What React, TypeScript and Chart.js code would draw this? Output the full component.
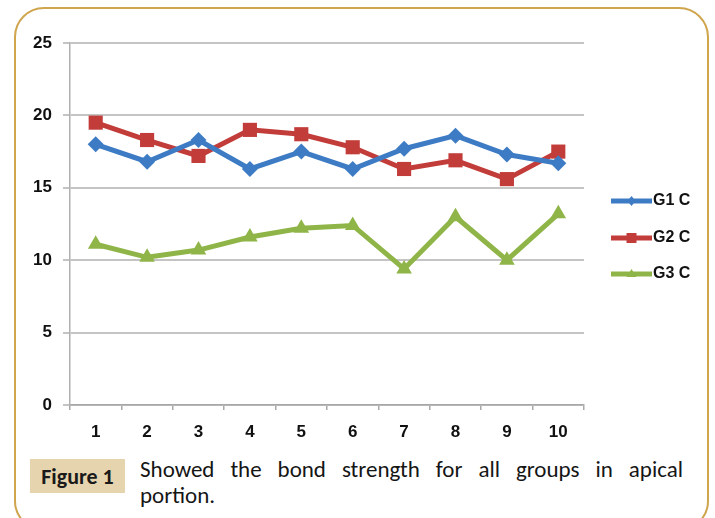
import React, { useEffect, useRef } from "react";
import { Chart, registerables } from "chart.js";

Chart.register(...registerables);

// Specimen positions along the x axis
const categories = ["1", "2", "3", "4", "5", "6", "7", "8", "9", "10"];

// Bond strength per group
const g1Values = [18.0, 16.8, 18.3, 16.3, 17.5, 16.3, 17.7, 18.6, 17.3, 16.7];
const g2Values = [19.5, 18.3, 17.2, 19.0, 18.7, 17.8, 16.3, 16.9, 15.6, 17.5];
const g3Values = [11.1, 10.2, 10.7, 11.6, 12.2, 12.4, 9.4, 13.0, 10.0, 13.2];

const seriesNames = ["G1 C", "G2 C", "G3 C"];
const yTicks = [0, 5, 10, 15, 20, 25];

const BLUE = "#3d7cc4";
const RED = "#c23d3a";
const GREEN = "#8fb548";

// Draws the legend on the right: a short line with a small marker and a bold label
const sideLegend = {
  id: "sideLegend",
  afterDraw(chart: any) {
    const ctx = chart.ctx;
    const rows = [201, 238, 274];
    chart.data.datasets.forEach((ds: any, i: number) => {
      const y = rows[i];
      const x0 = 611;
      const x1 = 652;
      const cx = (x0 + x1) / 2;
      ctx.save();
      ctx.strokeStyle = ds.borderColor;
      ctx.lineWidth = 5;
      ctx.beginPath();
      ctx.moveTo(x0, y);
      ctx.lineTo(x1, y);
      ctx.stroke();
      ctx.fillStyle = ds.borderColor;
      ctx.beginPath();
      if (ds.pointStyle === "rectRot") {
        ctx.moveTo(cx, y - 5);
        ctx.lineTo(cx + 4, y);
        ctx.lineTo(cx, y + 5);
        ctx.lineTo(cx - 4, y);
        ctx.closePath();
      } else if (ds.pointStyle === "rect") {
        ctx.rect(cx - 5, y - 5, 10, 10);
      } else {
        ctx.moveTo(cx, y - 5);
        ctx.lineTo(cx + 5, y + 3);
        ctx.lineTo(cx - 5, y + 3);
        ctx.closePath();
      }
      ctx.fill();
      ctx.fillStyle = "#111";
      ctx.font = "bold 16px 'Liberation Sans', Arial, sans-serif";
      ctx.textAlign = "left";
      ctx.textBaseline = "middle";
      ctx.fillText(ds.label, x1 + 1, y);
      ctx.restore();
    });
  },
};

function BondChart() {
  const ref = useRef<HTMLCanvasElement | null>(null);

  useEffect(() => {
    if (!ref.current) return;
    const tickFont = {
      family: "'Liberation Sans', Arial, sans-serif",
      size: 17,
      weight: "bold" as const,
    };
    const chart = new Chart(ref.current, {
      type: "line",
      data: {
        labels: categories,
        datasets: [
          {
            label: seriesNames[0],
            data: g1Values,
            borderColor: BLUE,
            backgroundColor: BLUE,
            borderWidth: 5,
            pointStyle: "rectRot",
            pointRadius: 8,
            pointBorderWidth: 0,
            tension: 0,
          },
          {
            label: seriesNames[1],
            data: g2Values,
            borderColor: RED,
            backgroundColor: RED,
            borderWidth: 5,
            pointStyle: "rect",
            pointRadius: 10,
            pointBorderWidth: 0,
            tension: 0,
          },
          {
            label: seriesNames[2],
            data: g3Values,
            borderColor: GREEN,
            backgroundColor: GREEN,
            borderWidth: 5,
            pointStyle: "triangle",
            pointRadius: 9,
            pointBorderWidth: 0,
            tension: 0,
          },
        ],
      },
      options: {
        responsive: false,
        animation: false,
        devicePixelRatio: 1,
        layout: { padding: { left: 0, right: 131, top: 43, bottom: 0 } },
        plugins: {
          legend: { display: false },
          tooltip: { enabled: false },
        },
        scales: {
          x: {
            offset: true,
            grid: {
              offset: true,
              drawOnChartArea: false,
              drawTicks: true,
              tickLength: 5,
              color: "#a8a8a8",
              lineWidth: 1.5,
            },
            border: { color: "#a8a8a8", width: 1.5 },
            ticks: { font: tickFont, color: "#111", padding: 12, maxRotation: 0 },
            afterFit(scale: any) {
              scale.height = 45;
            },
          },
          y: {
            min: yTicks[0],
            max: yTicks[yTicks.length - 1],
            afterBuildTicks(scale: any) {
              scale.ticks = yTicks.map((v) => ({ value: v }));
            },
            grid: {
              color: "#c4c4c4",
              lineWidth: 2,
              tickLength: 7,
            },
            border: { color: "#b0b0b0", width: 1.5 },
            ticks: { font: tickFont, color: "#111", padding: 11 },
            afterFit(scale: any) {
              scale.width = 70;
            },
          },
        },
      },
      plugins: [sideLegend],
    });
    return () => chart.destroy();
  }, []);

  return (
    <canvas
      ref={ref}
      width={715}
      height={450}
      style={{ position: "absolute", left: 0, top: 0, width: 715, height: 450 }}
    />
  );
}

export default function App() {
  const captionFont = "Carlito, Lato, 'Open Sans', sans-serif";
  return (
    <div
      style={{
        position: "fixed",
        left: 0,
        top: 0,
        width: 715,
        height: 518,
        background: "#fff",
        overflow: "hidden",
      }}
    >
      <div
        style={{
          position: "absolute",
          left: 14,
          top: 7,
          width: 691,
          height: 520,
          border: "2px solid #cfa54e",
          borderRadius: 30,
        }}
      />
      <BondChart />
      <div
        style={{
          position: "absolute",
          left: 30,
          top: 459,
          width: 95,
          height: 34,
          background: "#e6d4ae",
          display: "flex",
          alignItems: "center",
          justifyContent: "center",
          fontFamily: captionFont,
          fontWeight: 700,
          fontSize: 22,
          color: "#1a1a1a",
        }}
      >
        Figure 1
      </div>
      <div
        style={{
          position: "absolute",
          left: 140,
          top: 458,
          width: 543,
          fontFamily: captionFont,
          fontSize: 23,
          lineHeight: "23px",
          color: "#151515",
          textAlign: "justify",
          textAlignLast: "justify",
          whiteSpace: "nowrap",
        }}
      >
        Showed the bond strength for all groups in apical
      </div>
      <div
        style={{
          position: "absolute",
          left: 140,
          top: 484,
          fontFamily: captionFont,
          fontSize: 23,
          lineHeight: "23px",
          color: "#151515",
        }}
      >
        portion.
      </div>
    </div>
  );
}
